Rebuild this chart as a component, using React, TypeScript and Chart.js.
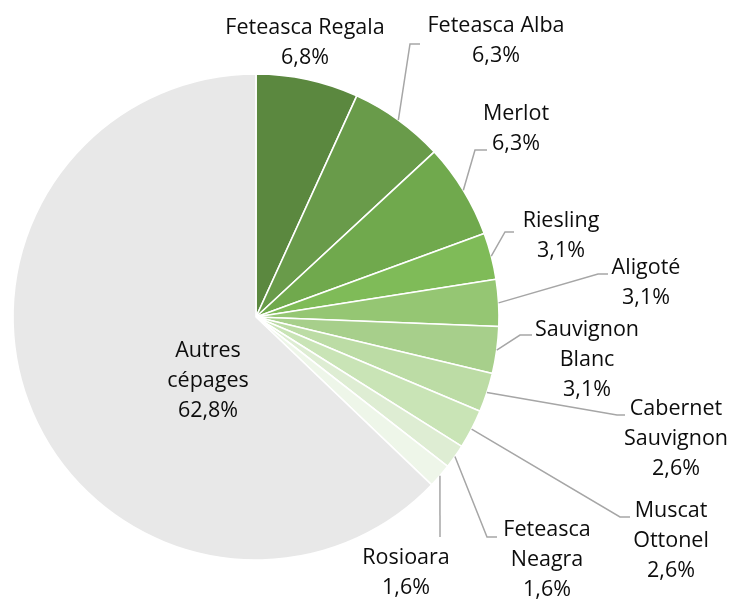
import React, { useEffect, useRef } from "react";
import { Chart, registerables } from "chart.js";

Chart.register(...registerables);

const categories = [
  "Feteasca Regala",
  "Feteasca Alba",
  "Merlot",
  "Riesling",
  "Aligoté",
  "Sauvignon Blanc",
  "Cabernet Sauvignon",
  "Muscat Ottonel",
  "Feteasca Neagra",
  "Rosioara",
  "Autres cépages",
];
const shares = [6.8, 6.3, 6.3, 3.1, 3.1, 3.1, 2.6, 2.6, 1.6, 1.6, 62.8];
const colors = [
  "#5b883f",
  "#699b4a",
  "#70a94d",
  "#7fbb58",
  "#95c673",
  "#a7cf8b",
  "#bcdca5",
  "#c9e4b6",
  "#deedd3",
  "#eef6e9",
  "#e8e8e8",
];

// label layout: text centre x, first line centre y, elbow points for leader (null = no leader), wrap words
const labelLayout = [
  { cx: 305, cy: 28, pts: null, wrap: false },
  { cx: 496, cy: 26, pts: [[410, 44], [420, 44]], wrap: false },
  { cx: 516, cy: 114, pts: [[475, 150], [487, 150]], wrap: false },
  { cx: 561, cy: 221, pts: [[505, 232], [514, 232]], wrap: false },
  { cx: 646, cy: 268, pts: [[598, 274], [608, 274]], wrap: false },
  { cx: 587, cy: 330, pts: [[520, 335], [532, 335]], wrap: true },
  { cx: 676, cy: 409, pts: [[617, 415], [625, 415]], wrap: true },
  { cx: 671, cy: 511, pts: [[620, 517], [630, 517]], wrap: true },
  { cx: 547, cy: 530, pts: [[487, 537], [497, 537]], wrap: true },
  { cx: 406, cy: 558, pts: [[440, 537]], wrap: false },
  { cx: 208, cy: 351, pts: null, wrap: true },
];

const FONT = '21.5px "Open Sans"';
const LINE_H = 30;

const labelPlugin = {
  id: "outerLabels",
  afterDatasetsDraw(chart: any) {
    const ctx = chart.ctx;
    const meta = chart.getDatasetMeta(0);
    ctx.save();
    meta.data.forEach((arc: any, i: number) => {
      const lay = labelLayout[i];
      const p = arc.getProps(["x", "y", "startAngle", "endAngle", "outerRadius"], true);
      const mid = (p.startAngle + p.endAngle) / 2;
      if (lay.pts) {
        ctx.beginPath();
        ctx.strokeStyle = "#a6a6a6";
        ctx.lineWidth = 1.5;
        ctx.moveTo(p.x + Math.cos(mid) * p.outerRadius, p.y + Math.sin(mid) * p.outerRadius);
        lay.pts.forEach((pt: number[]) => ctx.lineTo(pt[0], pt[1]));
        ctx.stroke();
      }
      const name = categories[i];
      const lines = lay.wrap ? name.split(" ") : [name];
      lines.push(shares[i].toFixed(1).replace(".", ",") + "%");
      ctx.font = FONT;
      ctx.fillStyle = "#0d0d0d";
      ctx.textAlign = "center";
      ctx.textBaseline = "middle";
      lines.forEach((t: string, k: number) => ctx.fillText(t, lay.cx, lay.cy + k * LINE_H));
    });
    ctx.restore();
  },
};

export default function App() {
  const ref = useRef<HTMLCanvasElement>(null);
  useEffect(() => {
    document.body.style.margin = "0";
    const chart = new Chart(ref.current!, {
      type: "pie",
      data: {
        labels: categories,
        datasets: [
          {
            data: shares,
            backgroundColor: colors,
            borderColor: "#ffffff",
            borderWidth: 1.6,
          },
        ],
      },
      options: {
        animation: false,
        responsive: false,
        radius: 243,
        layout: { padding: { left: 13, top: 74, right: 235, bottom: 40 } },
        plugins: { legend: { display: false }, tooltip: { enabled: false } },
      } as any,
      plugins: [labelPlugin],
    });
    return () => chart.destroy();
  }, []);
  return (
    <div style={{ position: "absolute", left: 0, top: 0, width: 734, height: 600, background: "#fff" }}>
      <canvas ref={ref} width={734} height={600} style={{ width: 734, height: 600 }} />
    </div>
  );
}
